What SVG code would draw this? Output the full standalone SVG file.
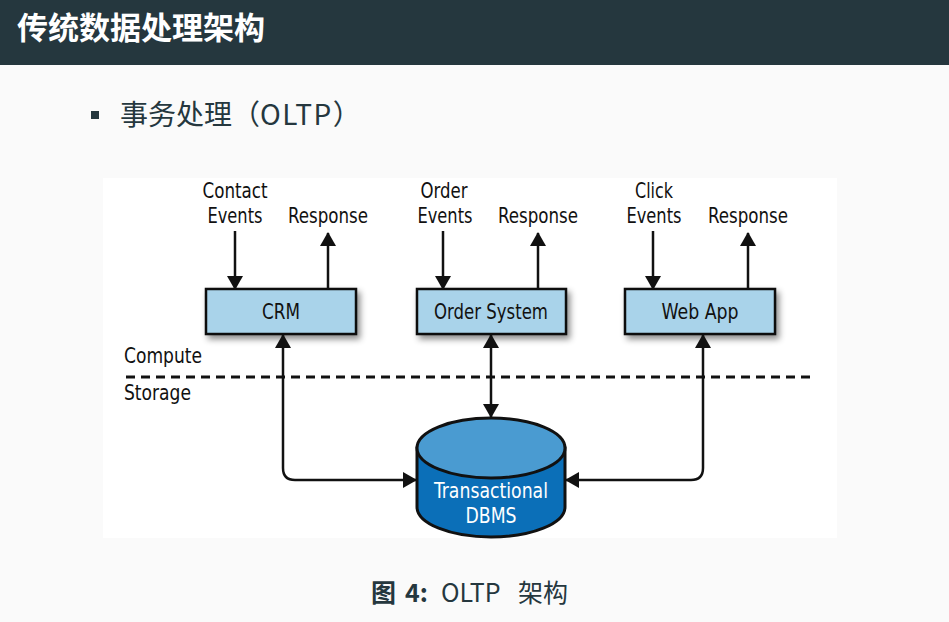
<svg xmlns="http://www.w3.org/2000/svg" width="949" height="622" viewBox="0 0 949 622">
<defs>
<style>
.lbl{font-family:"DejaVu Sans Condensed","Liberation Sans Narrow","Liberation Sans",sans-serif;font-size:21px;fill:#111;text-anchor:middle}
.box{fill:#a9d3ea;stroke:#111;stroke-width:2.5}
.ln{fill:none;stroke:#111;stroke-width:2.5}
.cjk{font-family:"Noto Sans CJK SC","Noto Sans",sans-serif}
</style>
<marker id="ah" viewBox="0 0 14 16" refX="13" refY="8" markerWidth="14" markerHeight="16" markerUnits="userSpaceOnUse" orient="auto-start-reverse">
<path d="M0,0 L14,8 L0,16 z" fill="#111"/>
</marker>
<filter id="sh" x="-20%" y="-30%" width="140%" height="180%">
<feDropShadow dx="3" dy="4" stdDeviation="3" flood-color="#000" flood-opacity="0.45"/>
</filter>
</defs>
<rect width="949" height="622" fill="#fafafa"/>
<rect width="949" height="65" fill="#25373e"/>
<text x="17" y="39" class="cjk" font-size="31" font-weight="bold" fill="#ffffff">传统数据处理架构</text>
<rect x="91" y="111" width="8" height="8" fill="#25373e"/>
<text x="120" y="125" class="cjk" font-size="28" fill="#25373e">事务处理（<tspan letter-spacing="1.5">OLTP</tspan>）</text>
<rect x="103" y="178" width="734" height="360" fill="#ffffff"/>

<g id="labels">
<text class="lbl" x="235" y="198" textLength="65" lengthAdjust="spacingAndGlyphs">Contact</text>
<text class="lbl" x="235" y="223" textLength="55" lengthAdjust="spacingAndGlyphs">Events</text>
<text class="lbl" x="328" y="223" textLength="80" lengthAdjust="spacingAndGlyphs">Response</text>
<text class="lbl" x="444" y="198" textLength="47" lengthAdjust="spacingAndGlyphs">Order</text>
<text class="lbl" x="445" y="223" textLength="55" lengthAdjust="spacingAndGlyphs">Events</text>
<text class="lbl" x="538" y="223" textLength="80" lengthAdjust="spacingAndGlyphs">Response</text>
<text class="lbl" x="654" y="198" textLength="38" lengthAdjust="spacingAndGlyphs">Click</text>
<text class="lbl" x="654" y="223" textLength="55" lengthAdjust="spacingAndGlyphs">Events</text>
<text class="lbl" x="748" y="223" textLength="80" lengthAdjust="spacingAndGlyphs">Response</text>
<text class="lbl" x="124" y="363" style="text-anchor:start" textLength="78" lengthAdjust="spacingAndGlyphs">Compute</text>
<text class="lbl" x="124" y="400" style="text-anchor:start" textLength="67" lengthAdjust="spacingAndGlyphs">Storage</text>
</g>

<line x1="126" y1="377" x2="811" y2="377" stroke="#111" stroke-width="3" stroke-dasharray="9,6"/>

<g id="crm">
<rect class="box" x="206" y="289" width="150" height="45" filter="url(#sh)"/>
<text class="lbl" x="281" y="319" textLength="38" lengthAdjust="spacingAndGlyphs">CRM</text>
</g>
<g id="order">
<rect class="box" x="417" y="289" width="149" height="45" filter="url(#sh)"/>
<text class="lbl" x="491" y="319" textLength="114" lengthAdjust="spacingAndGlyphs">Order System</text>
</g>
<g id="webapp">
<rect class="box" x="625" y="289" width="150" height="45" filter="url(#sh)"/>
<text class="lbl" x="700" y="319" textLength="77" lengthAdjust="spacingAndGlyphs">Web App</text>
</g>
<g id="dbms">
<path d="M417,448 L417,507 A74,30 0 0 0 565,507 L565,448 Z" fill="#0b6fb8" stroke="#111" stroke-width="3"/>
<ellipse cx="491" cy="448" rx="74" ry="30" fill="#4a9bd1" stroke="#111" stroke-width="3"/>
<text class="lbl" x="491" y="498" style="fill:#ffffff" textLength="114" lengthAdjust="spacingAndGlyphs">Transactional</text>
<text class="lbl" x="491" y="523" style="fill:#ffffff" textLength="51" lengthAdjust="spacingAndGlyphs">DBMS</text>
</g>

<g id="connectors">
<line class="ln" x1="235" y1="231" x2="235" y2="289" marker-end="url(#ah)"/>
<line class="ln" x1="328" y1="289" x2="328" y2="233" marker-end="url(#ah)"/>
<line class="ln" x1="443" y1="231" x2="443" y2="289" marker-end="url(#ah)"/>
<line class="ln" x1="538" y1="289" x2="538" y2="233" marker-end="url(#ah)"/>
<line class="ln" x1="653" y1="231" x2="653" y2="289" marker-end="url(#ah)"/>
<line class="ln" x1="748" y1="289" x2="748" y2="233" marker-end="url(#ah)"/>
<path class="ln" d="M416,480 L295,480 Q283,480 283,468 L283,335" marker-start="url(#ah)" marker-end="url(#ah)"/>
<line class="ln" x1="491" y1="335" x2="491" y2="417" marker-start="url(#ah)" marker-end="url(#ah)"/>
<path class="ln" d="M566,480 L691,480 Q703,480 703,468 L703,335" marker-start="url(#ah)" marker-end="url(#ah)"/>
</g>

<g class="cjk" font-size="25" fill="#25373e">
<text x="371" y="602" font-weight="bold">图</text>
<text x="405" y="602" font-weight="bold">4:</text>
<text x="441" y="602">OLTP</text>
<text x="518" y="602">架构</text>
</g>
</svg>
